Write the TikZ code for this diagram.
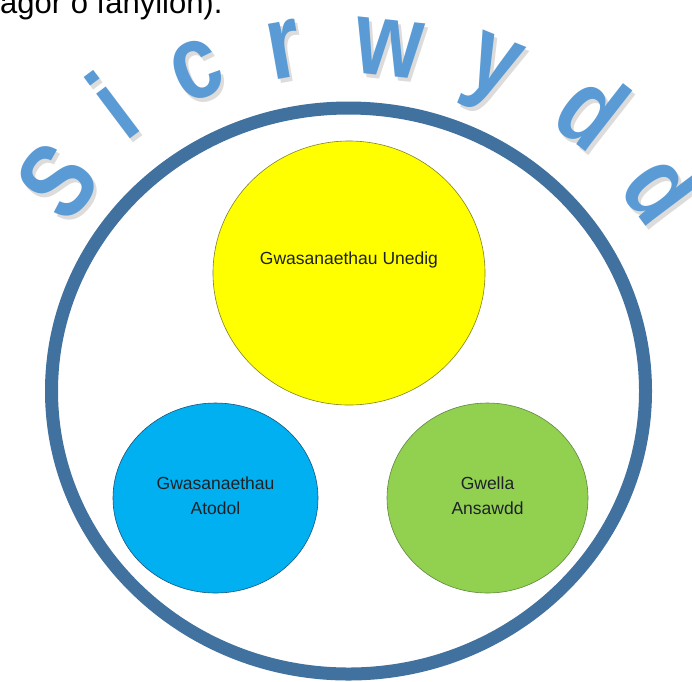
\documentclass[tikz,border=0pt]{standalone}
\usepackage{fontspec}
\setmainfont{Liberation Sans}
\usetikzlibrary{shapes.geometric}
\definecolor{wordblue}{RGB}{91,155,213}
\definecolor{ringblue}{RGB}{65,113,158}
\definecolor{cyellow}{RGB}{255,255,0}
\definecolor{cblue}{RGB}{0,176,240}
\definecolor{cgreen}{RGB}{146,208,80}
\definecolor{txtdark}{RGB}{30,34,40}
\begin{document}
\begin{tikzpicture}[x=1pt,y=-1pt,
  letter/.style={font=\bfseries\fontsize{106}{106}\selectfont, text=wordblue, inner sep=0pt},
  shadowletter/.style={font=\bfseries\fontsize{106}{106}\selectfont, text={rgb,255:red,90;green,80;blue,70}, opacity=0.2, inner sep=0pt},
  bubble/.style={ellipse, inner sep=0pt, line width=0.6pt},
  bubbletext/.style={font=\fontsize{17.5}{25}\selectfont, text=txtdark, align=center, inner sep=0pt}]
\useasboundingbox (0,0) rectangle (692,681);
\clip (0,0) rectangle (692,681);
\fill[white] (0,0) rectangle (692,681);
% cut-off text line at the top
\node[anchor=base west, font=\fontsize{31}{31}\selectfont, inner sep=0pt] (topline) at (0,13) {agor o fanylion).};
% arched word
\foreach \px/\py/\rot/\ch/\nm in {57/181/51/S/s1, 112/105/37/i/s2, 197/70/23/c/s3, 284/49/10/r/s4, 389/48/-6/w/s5, 490/75/-22/y/s6, 593/109/-38/d/s7, 664/187/-53/d/s8}{
  \node[shadowletter, rotate=\rot] (\nm sh) at (\px+3,\py+4) {\scalebox{0.82}[1]{\ch}};
  \node[letter, rotate=\rot] (\nm) at (\px,\py) {\scalebox{0.82}[1]{\ch}};
}
% outer ring
\node[ellipse, draw=ringblue, line width=13pt, inner sep=0pt, minimum width=594pt, minimum height=566pt] (ring) at (348.5,391) {};
% circles
\node[bubble, draw={rgb,255:red,130;green,130;blue,40}, fill=cyellow, minimum width=272pt, minimum height=264pt] (unedig) at (349,273) {};
\node[bubbletext] (unedigtext) at ([yshift=13pt]unedig.center) {Gwasanaethau Unedig};
\node[bubble, draw={rgb,255:red,25;green,85;blue,125}, fill=cblue, minimum width=205pt, minimum height=190pt] (atodol) at (215.5,498) {};
\node[bubbletext] (atodoltext) at ([yshift=2pt]atodol.center) {Gwasanaethau\\Atodol};
\node[bubble, draw={rgb,255:red,95;green,135;blue,65}, fill=cgreen, minimum width=201pt, minimum height=190pt] (ansawdd) at (487.5,498) {};
\node[bubbletext] (ansawddtext) at ([yshift=2pt]ansawdd.center) {Gwella\\Ansawdd};
\end{tikzpicture}
\end{document}
